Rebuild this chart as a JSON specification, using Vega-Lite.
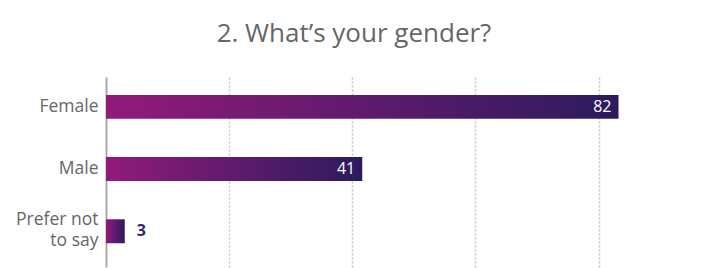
{
  "$schema": "https://vega.github.io/schema/vega-lite/v6.json",
  "autosize": {"type": "none"},
  "width": 600,
  "height": 190,
  "padding": {"left": 106, "top": 77, "right": 9, "bottom": 1},
  "background": "white",
  "title": {
    "text": "2. What’s your gender?",
    "font": "Open Sans",
    "fontSize": 26,
    "fontWeight": "normal",
    "color": "#666666",
    "anchor": "middle",
    "dx": -52,
    "offset": 30
  },
  "config": {
    "view": {"stroke": null},
    "font": "Open Sans"
  },
  "data": {
    "values": [
      {"gender": "Female", "count": 82},
      {"gender": "Male", "count": 41},
      {"gender": "Prefer not to say", "count": 3}
    ]
  },
  "encoding": {
    "y": {
      "field": "gender",
      "type": "nominal",
      "sort": ["Female", "Male", "Prefer not to say"],
      "scale": {"paddingInner": 0.615, "paddingOuter": 0.335, "align": 0.43},
      "axis": {
        "title": null,
        "ticks": false,
        "domain": true,
        "domainColor": "#aaaaaa",
        "domainWidth": 2,
        "labelFont": "Open Sans",
        "labelFontSize": 17.5,
        "labelColor": "#666666",
        "labelPadding": 8,
        "labelLineHeight": 21,
        "labelOffset": {"condition": {"test": "datum.value == 'Prefer not to say'", "value": -11}, "value": 0},
        "labelExpr": "datum.value == 'Prefer not to say' ? ['Prefer not', 'to say'] : datum.value"
      }
    },
    "x": {
      "field": "count",
      "type": "quantitative",
      "scale": {"domain": [0, 96], "nice": false},
      "axis": {
        "title": null,
        "labels": false,
        "ticks": false,
        "domain": false,
        "grid": true,
        "values": [19.7, 39.4, 59.1, 78.8],
        "gridColor": "#c4c4c4",
        "gridDash": [2, 2],
        "gridWidth": 1.5
      }
    }
  },
  "layer": [
    {
      "mark": {
        "type": "bar",
        "color": {
          "gradient": "linear",
          "x1": 0, "x2": 1, "y1": 0, "y2": 0,
          "stops": [
            {"offset": 0, "color": "#921a7a"},
            {"offset": 1, "color": "#2c1b5e"}
          ]
        }
      }
    },
    {
      "transform": [{"filter": "datum.count > 10"}],
      "mark": {"type": "text", "align": "right", "dx": -7, "font": "Open Sans", "fontSize": 16, "color": "white"},
      "encoding": {"text": {"field": "count", "type": "quantitative"}}
    },
    {
      "transform": [{"filter": "datum.count <= 10"}],
      "mark": {"type": "text", "align": "left", "dx": 12, "font": "Open Sans", "fontSize": 16, "fontWeight": "bold", "color": "#3b2470"},
      "encoding": {"text": {"field": "count", "type": "quantitative"}}
    }
  ]
}
